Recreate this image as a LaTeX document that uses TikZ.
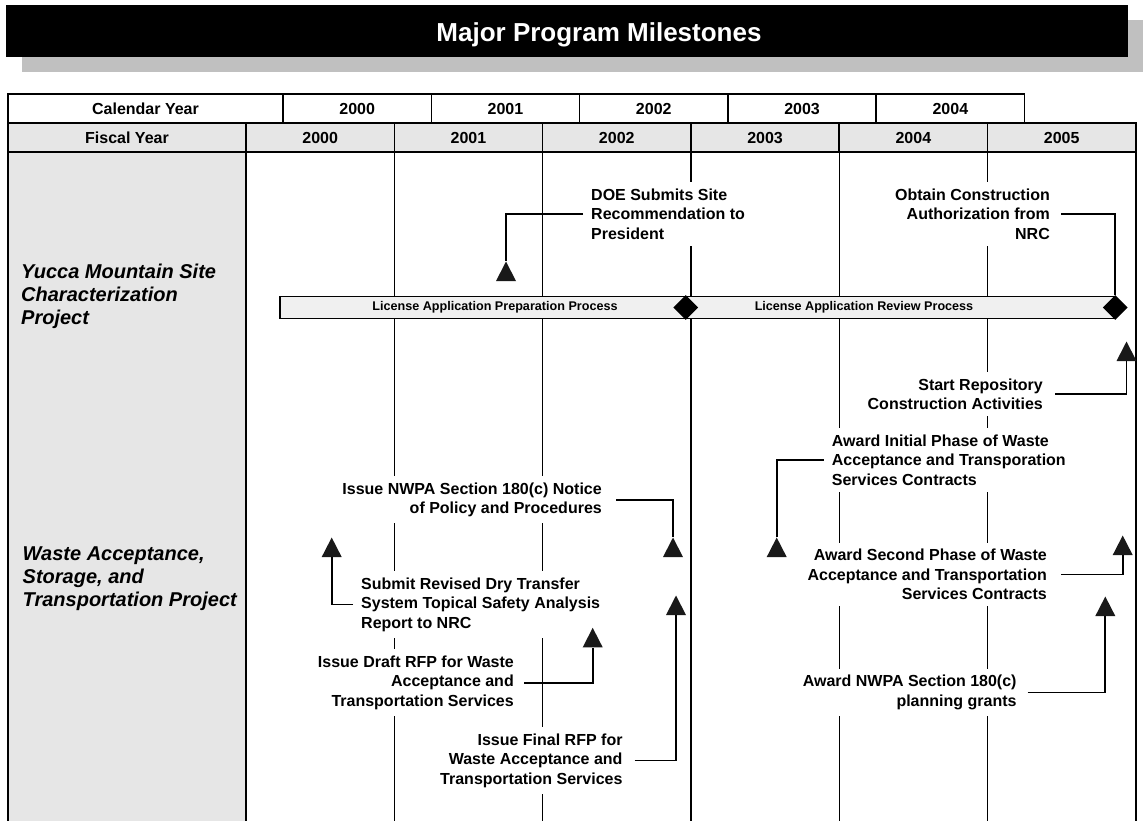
\documentclass[tikz,border=0pt]{standalone}
\usepackage{fontspec}
\setmainfont{Liberation Sans}
\usetikzlibrary{shapes.geometric}
\definecolor{panelgray}{HTML}{E6E6E6}
\definecolor{bargray}{HTML}{F0F0F0}
\definecolor{shadowgray}{HTML}{C0C0C0}
\begin{document}
\begin{tikzpicture}[x=1pt,y=-1pt,
  gridline/.style={line width=1.4pt},
  frameline/.style={line width=1.6pt},
  hcell/.style={draw, line width=1.6pt, inner sep=0pt, minimum height=29pt,
    text height=11.6pt, text depth=0pt,
    font=\fontsize{16}{19}\selectfont\bfseries},
  milestone/.style={fill=white, inner xsep=8pt, inner ysep=6.5pt,
    font=\fontsize{16}{19.5}\selectfont\bfseries},
  project/.style={inner sep=0pt, align=left, anchor=north west,
    font=\fontsize{20}{23}\selectfont\bfseries\itshape},
  conn/.style={line width=1.8pt},
  tri/.style={isosceles triangle, isosceles triangle stretches,
    shape border rotate=90, minimum width=20pt, minimum height=19.5pt,
    inner sep=0pt, fill=black!90, anchor=apex},
  gate/.style={diamond, fill=black, minimum width=25pt, minimum height=25pt, inner sep=0pt},
  barbox/.style={draw, line width=1.3pt, fill=bargray, minimum height=22pt, inner sep=0pt},
  bartext/.style={inner sep=0pt, font=\fontsize{12.6}{14}\selectfont\bfseries}
]
\useasboundingbox (0,0) rectangle (1143,821);
\clip (0,0) rectangle (1143,821);

% title banner with drop shadow
\fill[shadowgray] (22,20) rectangle (1143,72);
\node[fill=black, minimum width=1122pt, minimum height=52pt, inner sep=0pt] (titlebar) at (567,31) {};
\node[text=white, inner sep=0pt, text height=19pt, text depth=0pt,
  font=\fontsize{26}{30}\selectfont\bfseries] (title) at (599,32) {Major Program Milestones};

% body: label column and fiscal-year grid lines
\fill[panelgray] (8,152) rectangle (246,830);
\foreach \x in {394.3,542.6,690.9,839.2,987.5}
  \draw[gridline] (\x,152) -- (\x,830);
\draw[frameline] (8,152) -- (8,830) (246,152) -- (246,830) (1135.8,152) -- (1135.8,830);

% calendar year row
\foreach \a/\b/\t [count=\i] in {8/283/Calendar Year,283/431.3/2000,431.3/579.6/2001,
    579.6/727.9/2002,727.9/876.2/2003,876.2/1024.5/2004}
  \node[hcell, fill=white, minimum width={\b-\a}] (cal\i) at ({(\a+\b)/2},108.5) {\t};

% fiscal year row
\foreach \a/\b/\t [count=\i] in {8/246/Fiscal Year,246/394.3/2000,394.3/542.6/2001,
    542.6/690.9/2002,690.9/839.2/2003,839.2/987.5/2004,987.5/1135.8/2005}
  \node[hcell, fill=panelgray, minimum width={\b-\a}] (fis\i) at ({(\a+\b)/2},137.5) {\t};

% project names
\node[project] (yucca) at (21,264.3) {Yucca Mountain Site\\Characterization\\Project};
\node[project] (waste) at (22.5,547) {Waste Acceptance,\\Storage, and\\Transportation Project};

% license application process bars
\node[barbox, minimum width=406pt] (barprep) at (483,307.5) {};
\node[barbox, minimum width=429pt] (barrev) at (900.5,307.5) {};
\node[bartext] (prepText) at (495,307.5) {License Application Preparation Process};
\node[bartext] (revText) at (864,307.5) {License Application Review Process};
\node[gate] (gateA) at (685.7,307.5) {};
\node[gate] (gateB) at (1115.3,307.5) {};

% milestone labels
\node[milestone, align=left, anchor=north west] (doe) at (583,181.8)
  {DOE Submits Site\\Recommendation to\\President};
\node[milestone, align=right, anchor=north east] (obtain) at (1058,181.8)
  {Obtain Construction\\Authorization from\\NRC};
\node[milestone, align=right, anchor=north east] (startrep) at (1051,371.8)
  {Start Repository\\Construction Activities};
\node[milestone, align=left, anchor=north west] (initial) at (823.7,428.2)
  {Award Initial Phase of Waste\\Acceptance and Transporation\\Services Contracts};
\node[milestone, align=right, anchor=north east] (notice) at (610,475.8)
  {Issue NWPA Section 180(c) Notice\\of Policy and Procedures};
\node[milestone, align=right, anchor=north east] (second) at (1055,542.5)
  {Award Second Phase of Waste\\Acceptance and Transportation\\Services Contracts};
\node[milestone, align=left, anchor=north west] (submit) at (353,570.8)
  {Submit Revised Dry Transfer\\System Topical Safety Analysis\\Report to NRC};
\node[milestone, align=right, anchor=north east] (draft) at (522,649.2)
  {Issue Draft RFP for Waste\\Acceptance and\\Transportation Services};
\node[milestone, align=right, anchor=north east] (grants) at (1024.7,668.5)
  {Award NWPA Section 180(c)\\planning grants};
\node[milestone, align=right, anchor=north east] (final) at (630.7,726.8)
  {Issue Final RFP for\\Waste Acceptance and\\Transportation Services};

% milestone markers
\node[tri] (tDoe) at (506,261) {};
\node[tri] (tStart) at (1126.5,341) {};
\node[tri] (tInitial) at (776.7,537) {};
\node[tri] (tNotice) at (673,537) {};
\node[tri] (tSecond) at (1122.7,535) {};
\node[tri] (tSubmit) at (331.7,537) {};
\node[tri] (tDraft) at (592.7,627.3) {};
\node[tri] (tGrants) at (1105.3,596) {};
\node[tri] (tFinal) at (676,595) {};

% connectors from labels to markers
\draw[conn] (doe.west) -| (tDoe.north);
\draw[conn] ([xshift=3pt]obtain.east) -| (gateB.north);
\draw[conn] ([xshift=4pt]startrep.east) -| (tStart.south);
\draw[conn] (initial.west) -| (tInitial.north);
\draw[conn] ([xshift=6pt]notice.east) -| (tNotice.north);
\draw[conn] ([xshift=6pt]second.east) -| (tSecond.south);
\draw[conn] (submit.west) -| (tSubmit.south);
\draw[conn] ([xshift=2pt]draft.east) -| (tDraft.south);
\draw[conn] ([xshift=3pt]grants.east) -| (tGrants.south);
\draw[conn] ([xshift=4pt]final.east) -| (tFinal.south);
\end{tikzpicture}
\end{document}
